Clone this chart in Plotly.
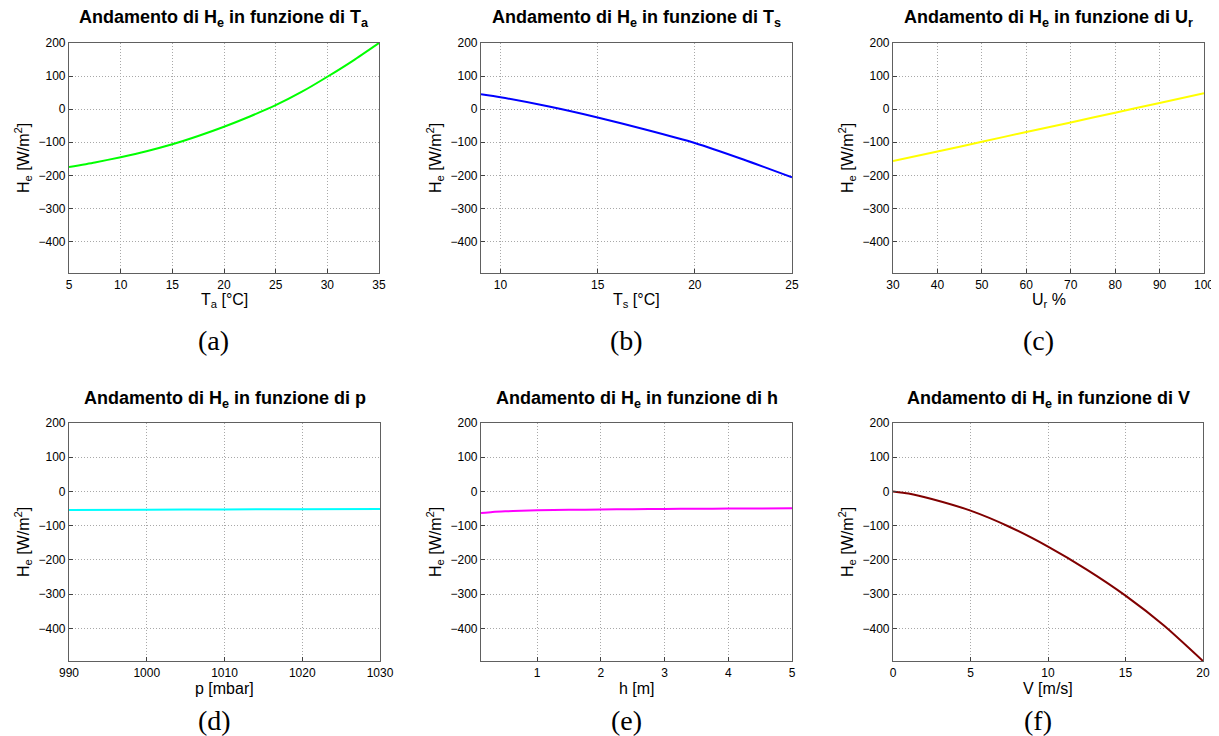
import plotly.graph_objects as go

# ---- data ----
Ta = [5, 7.5, 10, 12.5, 15, 17.5, 20, 22.5, 25, 27.5, 30, 32.5, 35]
He_Ta = [-175, -161, -145, -127, -106, -81, -53, -22, 12, 52, 98, 147, 200]

Ts = [9, 10, 12.5, 15, 17.5, 20, 22.5, 25]
He_Ts = [45, 36, 8, -25, -62, -102, -152, -206]

Ur = [30, 40, 50, 60, 70, 80, 90, 100]
He_Ur = [-157, -128, -98.5, -69, -40, -10.5, 19, 48]

p = [990, 1000, 1010, 1020, 1030]
He_p = [-54, -53.2, -52.4, -51.7, -51]

h = [0.12, 0.3, 0.5, 0.75, 1, 1.5, 2, 2.5, 3, 3.5, 4, 4.5, 5]
He_h = [-63, -60, -58, -56.5, -55, -53.5, -52.5, -51.7, -51, -50.4, -49.9, -49.4, -49]

V = [0, 1, 2.5, 5, 7.5, 10, 12.5, 15, 17.5, 20]
He_V = [0, -6, -22, -56, -103, -161, -228, -304, -392, -495]

series = [
    (Ta, He_Ta, "#00ff00", "T<sub>a</sub>", "T<sub>a</sub> [°C]", [5, 35], [5, 10, 15, 20, 25, 30, 35], "(a)"),
    (Ts, He_Ts, "#0000ff", "T<sub>s</sub>", "T<sub>s</sub> [°C]", [9, 25], [10, 15, 20, 25], "(b)"),
    (Ur, He_Ur, "#ffff00", "U<sub>r</sub>", "U<sub>r</sub> %", [30, 100], [30, 40, 50, 60, 70, 80, 90, 100], "(c)"),
    (p, He_p, "#00ffff", "p", "p [mbar]", [990, 1030], [990, 1000, 1010, 1020, 1030], "(d)"),
    (h, He_h, "#ff00ff", "h", "h [m]", [0.12, 5], [1, 2, 3, 4, 5], "(e)"),
    (V, He_V, "#800000", "V", "V [m/s]", [0, 20], [0, 5, 10, 15, 20], "(f)"),
]
y_range = [-495, 200]
y_ticks = [200, 100, 0, -100, -200, -300, -400]

OFF = 8  # page body margin
W, H = 1219 - OFF, 736 - OFF
# pixel boxes of plot areas in the screenshot (left, right, top, bottom)
boxes = [
    (69, 379, 43, 273), (481, 792, 43, 273), (893, 1204, 43, 273),
    (69, 380, 423, 661), (481, 792, 423, 661), (893, 1203, 423, 661),
]
cap_offset = [68, 68, 68, 59, 59, 59]

fig = go.Figure()
annotations = []
layout = {}
font_sans = "Liberation Sans, Arial, sans-serif"


def px(x):
    return (x - OFF) / W


def py(y):
    return 1 - (y - OFF) / H


for i, (xs, ys, col, var, xlab, xr, xt, cap) in enumerate(series):
    n = "" if i == 0 else str(i + 1)
    L, R, T, B = boxes[i]
    fig.add_trace(go.Scatter(x=xs, y=ys, mode="lines", line=dict(color=col, width=2, shape="spline", smoothing=0.6),
                             xaxis="x" + n, yaxis="y" + n, showlegend=False, hoverinfo="skip"))
    common = dict(showgrid=True, gridcolor="#a8a8a8", griddash="1px,2px", gridwidth=1,
                  zeroline=False, showline=True, mirror=True, linecolor="#606060", linewidth=1.2,
                  ticks="inside", ticklen=4, tickcolor="#404040", automargin=False,
                  tickfont=dict(family=font_sans, size=12, color="#000"))
    layout["xaxis" + n] = dict(domain=[px(L), px(R)], range=xr, tickvals=xt, anchor="y" + n, **common)
    layout["yaxis" + n] = dict(domain=[py(B), py(T)], range=y_range, tickvals=y_ticks,
                               anchor="x" + n, **common)
    cx = (L + R) / 2
    cy = (T + B) / 2
    annotations.append(dict(text="<b>Andamento di H<sub>e</sub> in funzione di " + var + "</b>",
                            x=px(cx), y=py(T - 24), xref="paper", yref="paper",
                            showarrow=False, font=dict(family=font_sans, size=18, color="#000"),
                            xanchor="center", yanchor="middle"))
    annotations.append(dict(text=xlab, x=px(cx), y=py(B + 27), xref="paper", yref="paper",
                            showarrow=False, font=dict(family=font_sans, size=16, color="#000"),
                            xanchor="center", yanchor="middle"))
    annotations.append(dict(text="H<sub>e</sub> [W/m<sup>2</sup>]", x=px(L - 46), y=py(cy),
                            xref="paper", yref="paper", textangle=-90,
                            showarrow=False, font=dict(family=font_sans, size=16, color="#000"),
                            xanchor="center", yanchor="middle"))
    annotations.append(dict(text=cap, x=px(cx - 10), y=py(B + cap_offset[i]), xref="paper", yref="paper",
                            showarrow=False, font=dict(family="Liberation Serif, DejaVu Serif, serif", size=28, color="#000"),
                            xanchor="center", yanchor="middle"))

fig.update_layout(template="none", width=W, height=H, margin=dict(l=0, r=0, t=0, b=0, autoexpand=False),
                  paper_bgcolor="white", plot_bgcolor="white",
                  annotations=annotations, **layout)
fig.write_html("out.html")
